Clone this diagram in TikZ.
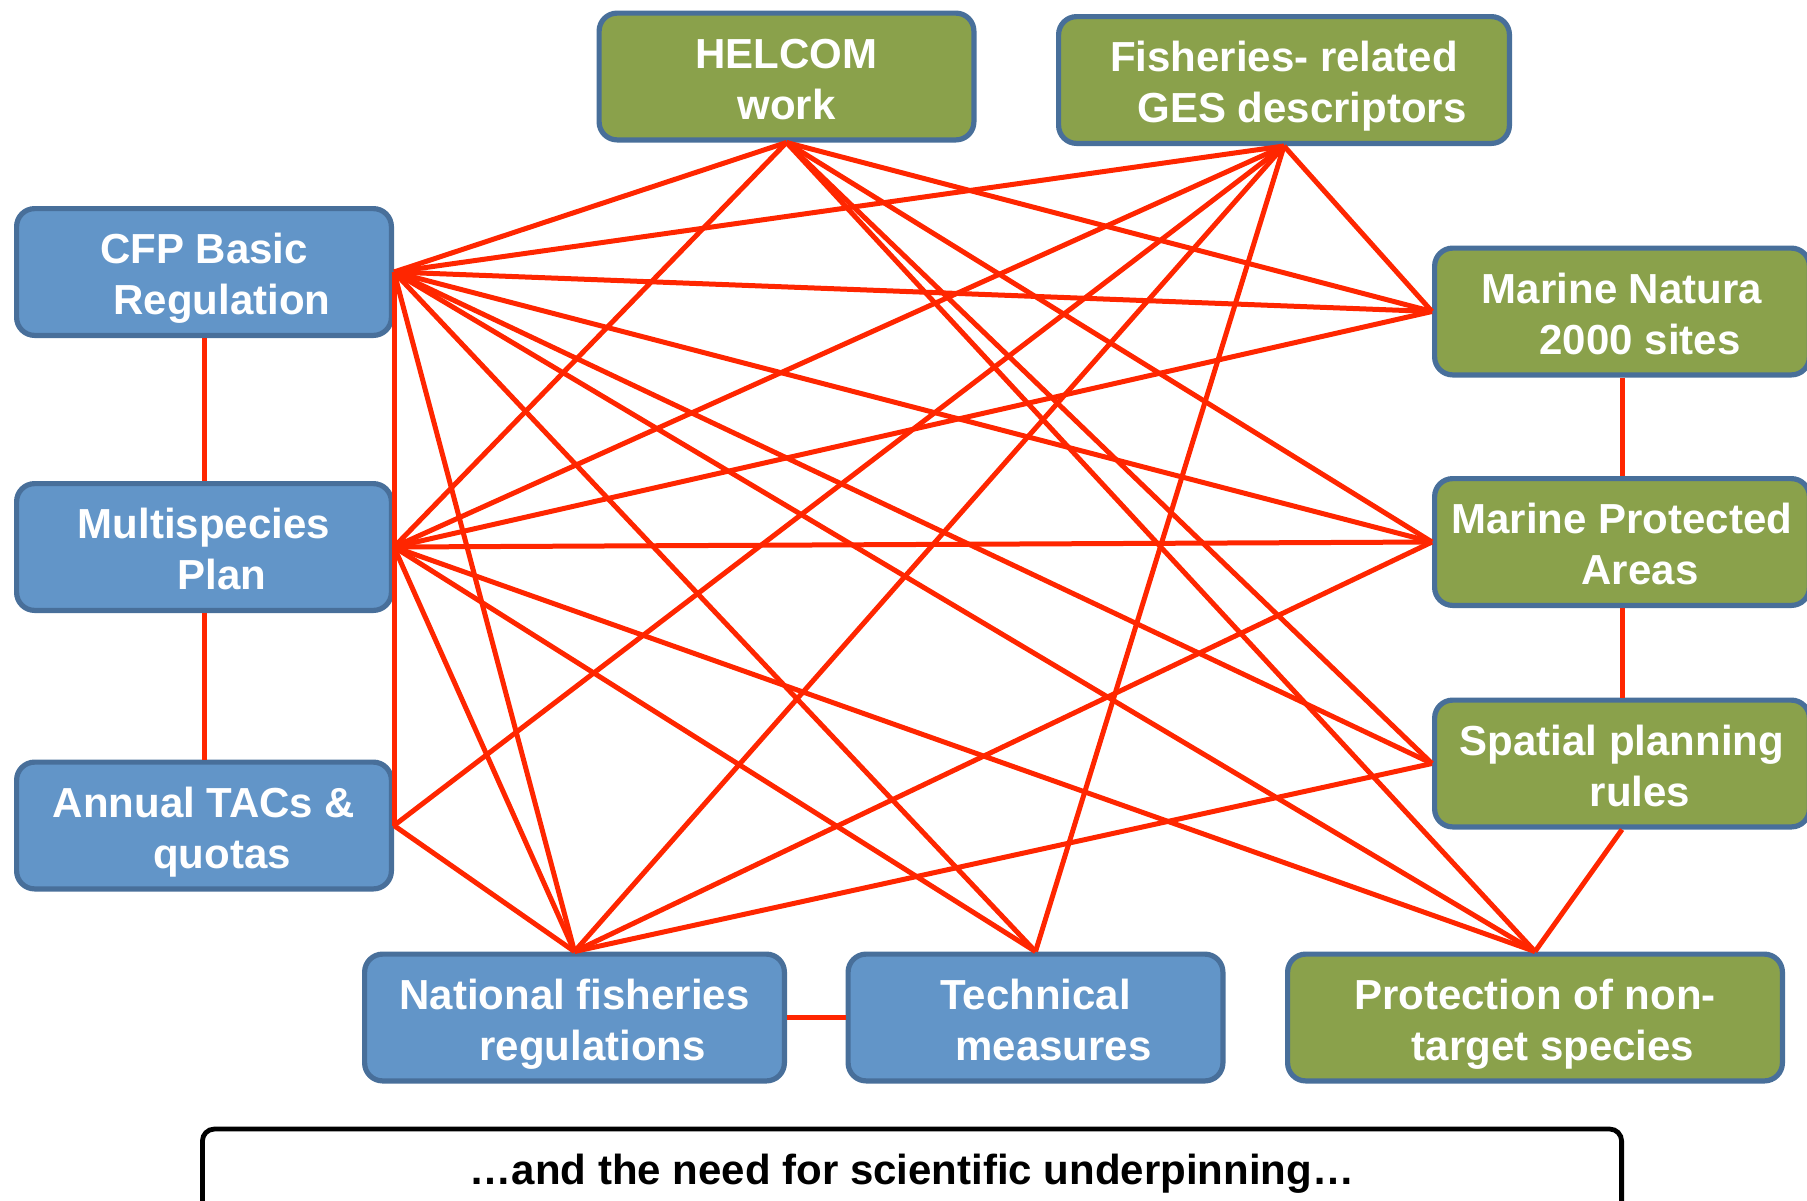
\documentclass[tikz,border=0pt]{standalone}
\usepackage{fontspec}
\setmainfont{Liberation Sans}

\definecolor{boxblue}{RGB}{98,149,200}
\definecolor{boxgreen}{RGB}{138,161,75}
\definecolor{rimblue}{RGB}{72,111,154}
\definecolor{linkred}{RGB}{255,38,0}

% two lines of box text, with fixed line heights
\newcommand{\boxtext}[2]{\rule{0pt}{21.8pt}#1\\#2\rule[-4.5pt]{0pt}{4.5pt}}
\newcommand{\indl}{\hspace*{18pt}}

\tikzset{every picture/.style={line width=0.75pt}}
\tikzset{
  box/.style={draw=rimblue, line width=2.6pt, rounded corners=9pt, text=white,
    font=\fontsize{21}{25.5}\selectfont\bfseries, align=center, inner sep=0pt,
    minimum width=187.4pt, minimum height=63.4pt},
  bluebox/.style={box, fill=boxblue},
  greenbox/.style={box, fill=boxgreen},
  link/.style={draw=linkred, line width=2.5pt},
  notebox/.style={draw=black, line width=2.4pt, rounded corners=6pt, text=black,
    font=\fontsize{21}{25.5}\selectfont\bfseries, inner sep=0pt,
    minimum width=709.6pt, minimum height=45pt},
}

\begin{document}
\begin{tikzpicture}[x=0.5pt,y=0.5pt,yscale=-1,xscale=1]
        \useasboundingbox (0,0) rectangle (1807,1200);

        % Top boxes
        \node [greenbox] (helcom) at (786.5,76.5) {\boxtext{HELCOM}{work}};
        \node [greenbox, minimum width=225.4pt] (ges) at (1284,80) {\boxtext{Fisheries- related}{\indl GES descriptors}};
        % Left boxes
        \node [bluebox] (cfp) at (204,272) {\boxtext{CFP Basic}{\indl Regulation}};
        \node [bluebox] (msp) at (204,547) {\boxtext{Multispecies}{\indl Plan}};
        \node [bluebox] (tacs) at (204,825.5) {\boxtext{Annual TACs \&}{\indl quotas}};
        % Right boxes
        \node [greenbox] (natura) at (1622,311.5) {\boxtext{Marine Natura}{\indl 2000 sites}};
        \node [greenbox] (mpa) at (1622,542) {\boxtext{Marine Protected}{\indl Areas}};
        \node [greenbox] (spatial) at (1622,763.5) {\boxtext{Spatial planning}{\indl rules}};
        % Bottom boxes
        \node [bluebox, minimum width=209.9pt] (national) at (574.5,1017.5) {\boxtext{National fisheries}{\indl regulations}};
        \node [bluebox] (technical) at (1035.5,1017.5) {\boxtext{Technical}{\indl measures}};
        \node [greenbox, minimum width=247.4pt] (nontarget) at (1535,1017.5) {\boxtext{Protection of non-}{\indl target species}};

        % Note
        \node [notebox] (note) at (912,1174) {…and the need for scientific underpinning…};

        % Links along the columns
        \draw [link] (cfp.south) -- (msp.north);
        \draw [link] (msp.south) -- (tacs.north);
        \draw [link] (cfp.east) -- (msp.east);
        \draw [link] (msp.east) -- (tacs.east);
        \draw [link] (natura.south) -- (mpa.north);
        \draw [link] (mpa.south) -- (spatial.north);
        \draw [link] (spatial.south) -- (nontarget.north);
        \draw [link] (national.east) -- (technical.west);

        % Links from CFP Basic Regulation
        \draw [link] (cfp.east) -- (helcom.south);
        \draw [link] (cfp.east) -- (ges.south);
        \draw [link] (cfp.east) -- (natura.west);
        \draw [link] (cfp.east) -- (mpa.west);
        \draw [link] (cfp.east) -- (spatial.west);
        \draw [link] (cfp.east) -- (nontarget.north);
        \draw [link] (cfp.east) -- (technical.north);
        \draw [link] (cfp.east) -- (national.north);

        % Links from Multispecies Plan
        \draw [link] (msp.east) -- (helcom.south);
        \draw [link] (msp.east) -- (ges.south);
        \draw [link] (msp.east) -- (natura.west);
        \draw [link] (msp.east) -- (mpa.west);
        \draw [link] (msp.east) -- (nontarget.north);
        \draw [link] (msp.east) -- (technical.north);
        \draw [link] (msp.east) -- (national.north);

        % Links from Annual TACs
        \draw [link] (tacs.east) -- (ges.south);
        \draw [link] (tacs.east) -- (national.north);

        % Links from HELCOM work
        \draw [link] (helcom.south) -- (natura.west);
        \draw [link] (helcom.south) -- (mpa.west);
        \draw [link] (helcom.south) -- (spatial.west);
        \draw [link] (helcom.south) -- (nontarget.north);

        % Links from GES descriptors
        \draw [link] (ges.south) -- (natura.west);
        \draw [link] (ges.south) -- (national.north);
        \draw [link] (ges.south) -- (technical.north);

        % Links from National fisheries regulations
        \draw [link] (national.north) -- (mpa.west);
        \draw [link] (national.north) -- (spatial.west);

\end{tikzpicture}
\end{document}
